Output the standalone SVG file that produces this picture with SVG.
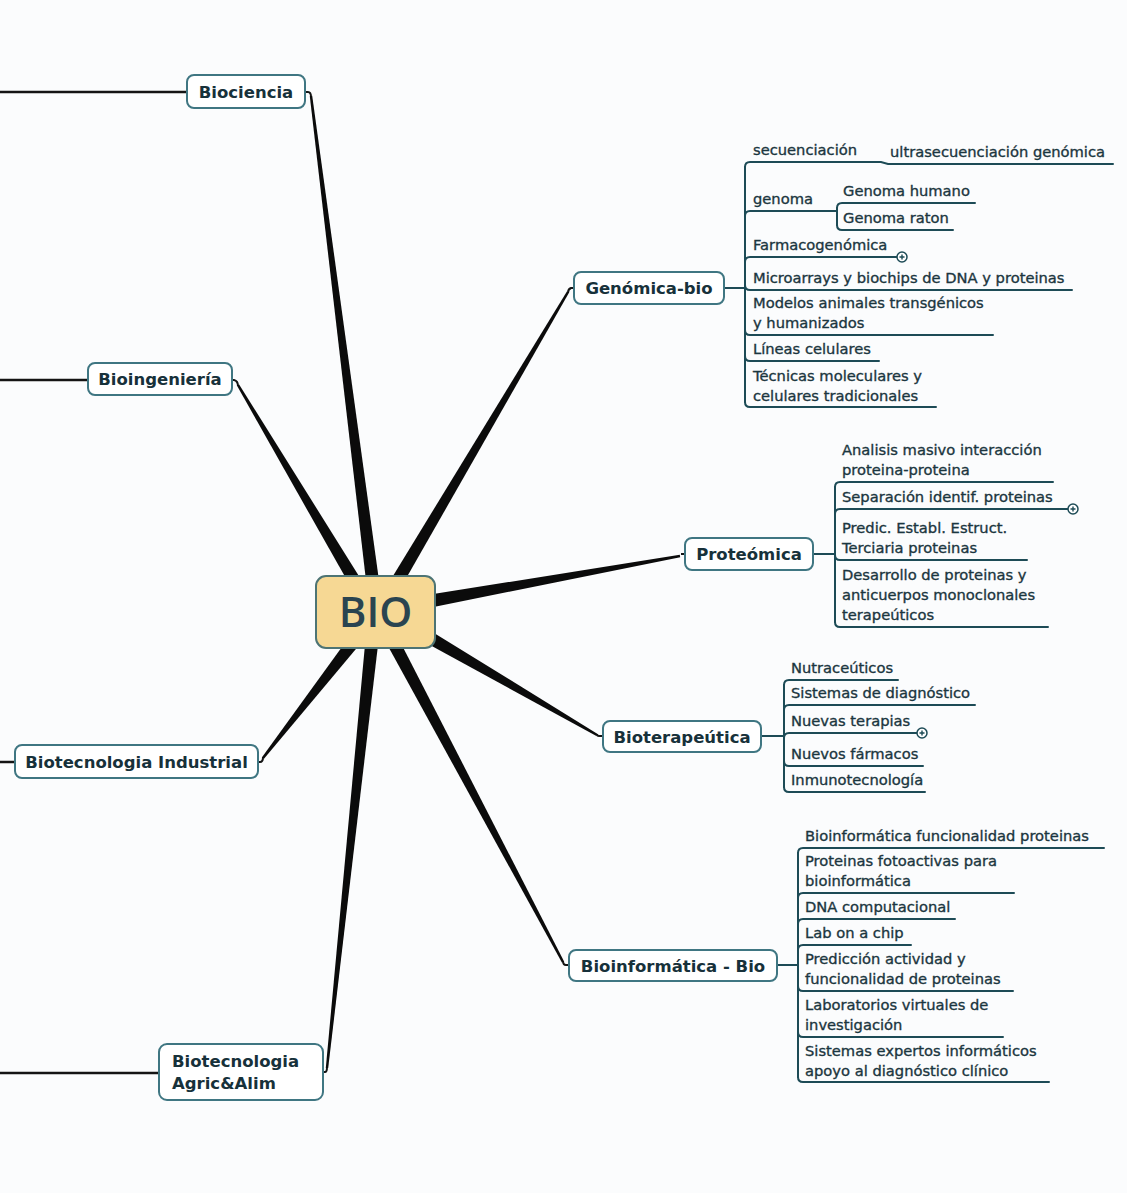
<svg xmlns="http://www.w3.org/2000/svg" width="1127" height="1193" viewBox="0 0 1127 1193">
  <style>
    .t { font-family: "DejaVu Sans", "Liberation Sans", sans-serif; font-size: 14.7px; fill: #1b3640; stroke: #1b3640; stroke-width: 0.35px; }
    .h { font-family: "DejaVu Sans", "Liberation Sans", sans-serif; font-size: 16.5px; font-weight: bold; fill: #17313a; }
    .root { font-family: "Open Sans", "DejaVu Sans", sans-serif; font-size: 42px; font-weight: 600; fill: #2a4450; }
    .ln { fill: none; stroke: #1d4b56; stroke-width: 2; stroke-linecap: round; }
    .box { fill: #ffffff; stroke: #3f7682; stroke-width: 2; }
    .spoke { fill: #0b0b0b; }
    .lead { fill: none; stroke: #141414; stroke-width: 2.5; }
    .hook { fill: none; stroke: #141414; stroke-width: 2; }
    .more circle { fill: #ffffff; stroke: #1d4b56; stroke-width: 1.5; }
    .more path { stroke: #1d4b56; stroke-width: 1.4; }
  </style>

  <rect width="1127" height="1193" fill="#fbfcfd"/>

  <g id="connectors">
    <!-- lines running off the left edge -->
    <path class="lead" d="M0,92 H187"/>
    <path class="lead" d="M0,380 H88"/>
    <path class="lead" d="M0,762 H15"/>
    <path class="lead" d="M0,1073 H159"/>

    <!-- short hooks from the topic boxes to the spokes -->
    <path class="hook" d="M305,92 H308 Q311,92 311,97"/>
    <path class="hook" d="M232,380 H234 Q238,381 238,386"/>
    <path class="hook" d="M574,288 H571 Q568,289 568,293"/>
    <path class="hook" d="M685,554 H681"/>
    <path class="hook" d="M603,736 H599 Q597,736 597,734"/>
    <path class="hook" d="M569,965 H566 Q563,965 563,961"/>
    <path class="hook" d="M323,1072 H325 Q327,1072 327,1067"/>
    <path class="hook" d="M258,762 H260 Q263,762 263,757"/>

    <!-- tapered spokes from the central node -->
    <polygon class="spoke" points="309.8,96.2 312.2,95.8 379.5,584.2 366.6,585.8"/>
    <polygon class="spoke" points="236.9,385.6 239.1,384.4 365.6,586.7 354.4,593.3"/>
    <polygon class="spoke" points="566.9,291.4 569.1,292.6 397.6,593.3 386.4,586.7"/>
    <polygon class="spoke" points="679.8,554.8 680.2,557.2 426.2,608.4 423.9,595.6"/>
    <polygon class="spoke" points="597.6,733.9 596.4,736.1 421.7,640.6 428.3,629.4"/>
    <polygon class="spoke" points="564.1,961.4 561.9,962.6 386.3,643.1 397.7,637.0"/>
    <polygon class="spoke" points="328.2,1068.1 325.8,1067.9 365.5,639.3 378.5,640.7"/>
    <polygon class="spoke" points="264.0,758.8 262.0,757.2 349.9,636.0 360.1,644.0"/>

    <!-- Genómica-bio branches -->
    <path class="ln" d="M724,288 H745"/>
    <path class="ln" d="M745,167 V402"/>
    <path class="ln" d="M745,167 Q745,162 750,162 H881 L888,164 H1113"/>
    <path class="ln" d="M745,216 Q745,211 750,211 H837"/>
    <path class="ln" d="M837,208 V225"/>
    <path class="ln" d="M837,208 Q837,203 842,203 H975"/>
    <path class="ln" d="M837,225 Q837,230 842,230 H953"/>
    <path class="ln" d="M745,262 Q745,257 750,257 H897"/>
    <path class="ln" d="M745,285 Q745,290 750,290 H1072"/>
    <path class="ln" d="M745,330 Q745,335 750,335 H993"/>
    <path class="ln" d="M745,356 Q745,361 750,361 H879"/>
    <path class="ln" d="M745,402 Q745,407 750,407 H936"/>

    <!-- Proteómica branches -->
    <path class="ln" d="M813,554 H835"/>
    <path class="ln" d="M835,487 V622"/>
    <path class="ln" d="M835,487 Q835,482 840,482 H1053"/>
    <path class="ln" d="M835,514 Q835,509 840,509 H1068"/>
    <path class="ln" d="M835,555 Q835,560 840,560 H1027"/>
    <path class="ln" d="M835,622 Q835,627 840,627 H1048"/>

    <!-- Bioterapeútica branches -->
    <path class="ln" d="M761,736 H784"/>
    <path class="ln" d="M784,685 V787"/>
    <path class="ln" d="M784,685 Q784,680 789,680 H898"/>
    <path class="ln" d="M784,710 Q784,705 789,705 H975"/>
    <path class="ln" d="M784,738 Q784,733 789,733 H917"/>
    <path class="ln" d="M784,761 Q784,766 789,766 H923"/>
    <path class="ln" d="M784,787 Q784,792 789,792 H925"/>

    <!-- Bioinformática - Bio branches -->
    <path class="ln" d="M777,965 H798"/>
    <path class="ln" d="M798,853 V1077"/>
    <path class="ln" d="M798,853 Q798,848 803,848 H1104"/>
    <path class="ln" d="M798,898 Q798,893 803,893 H1014"/>
    <path class="ln" d="M798,924 Q798,919 803,919 H955"/>
    <path class="ln" d="M798,950 Q798,945 803,945 H911"/>
    <path class="ln" d="M798,986 Q798,991 803,991 H1013"/>
    <path class="ln" d="M798,1032 Q798,1037 803,1037 H1003"/>
    <path class="ln" d="M798,1077 Q798,1082 803,1082 H1049"/>
  </g>

  <!-- central node -->
  <g id="node-bio">
    <rect x="316" y="576" width="119" height="72" rx="10" fill="#f6d894" stroke="#4d7474" stroke-width="2"/>
    <text class="root" x="375.5" y="627" text-anchor="middle">BIO</text>
  </g>

  <!-- main topics -->
  <g id="node-biociencia">
    <rect class="box" x="187" y="75" width="118" height="33" rx="7"/>
    <text class="h" x="246" y="97.5" text-anchor="middle">Biociencia</text>
  </g>
  <g id="node-bioingenieria">
    <rect class="box" x="88" y="363" width="144" height="32" rx="7"/>
    <text class="h" x="160" y="385" text-anchor="middle">Bioingeniería</text>
  </g>
  <g id="node-biotec-industrial">
    <rect class="box" x="15" y="745" width="243" height="33" rx="7"/>
    <text class="h" x="136.5" y="767.5" text-anchor="middle">Biotecnologia Industrial</text>
  </g>
  <g id="node-biotec-agric">
    <rect class="box" x="159" y="1044" width="164" height="56" rx="8"/>
    <text class="h" x="172" y="1067">Biotecnologia</text>
    <text class="h" x="172" y="1089">Agric&amp;Alim</text>
  </g>

  <g id="node-genomica">
    <rect class="box" x="574" y="272" width="150" height="32" rx="7"/>
    <text class="h" x="649" y="294" text-anchor="middle">Genómica-bio</text>
    <text class="t" x="753" y="155">secuenciación</text>
    <text class="t" x="890" y="157">ultrasecuenciación genómica</text>
    <text class="t" x="753" y="204">genoma</text>
    <text class="t" x="843" y="196">Genoma humano</text>
    <text class="t" x="843" y="223">Genoma raton</text>
    <text class="t" x="753" y="250">Farmacogenómica</text>
    <g class="more">
      <circle cx="902" cy="257" r="5"/>
      <path d="M899.5,257 H904.5 M902,254.5 V259.5"/>
    </g>
    <text class="t" x="753" y="283">Microarrays y biochips de DNA y proteinas</text>
    <text class="t" x="753" y="308">Modelos animales transgénicos</text>
    <text class="t" x="753" y="328">y humanizados</text>
    <text class="t" x="753" y="354">Líneas celulares</text>
    <text class="t" x="753" y="381">Técnicas moleculares y</text>
    <text class="t" x="753" y="401">celulares tradicionales</text>
  </g>

  <g id="node-proteomica">
    <rect class="box" x="685" y="538" width="128" height="32" rx="7"/>
    <text class="h" x="749" y="560" text-anchor="middle">Proteómica</text>
    <text class="t" x="842" y="455">Analisis masivo interacción</text>
    <text class="t" x="842" y="475">proteina-proteina</text>
    <text class="t" x="842" y="502">Separación identif. proteinas</text>
    <g class="more">
      <circle cx="1073" cy="509" r="5"/>
      <path d="M1070.5,509 H1075.5 M1073,506.5 V511.5"/>
    </g>
    <text class="t" x="842" y="533">Predic. Establ. Estruct.</text>
    <text class="t" x="842" y="553">Terciaria proteinas</text>
    <text class="t" x="842" y="580">Desarrollo de proteinas y</text>
    <text class="t" x="842" y="600">anticuerpos monoclonales</text>
    <text class="t" x="842" y="620">terapeúticos</text>
  </g>

  <g id="node-bioterapeutica">
    <rect class="box" x="603" y="721" width="158" height="31" rx="7"/>
    <text class="h" x="682" y="742.5" text-anchor="middle">Bioterapeútica</text>
    <text class="t" x="791" y="673">Nutraceúticos</text>
    <text class="t" x="791" y="698">Sistemas de diagnóstico</text>
    <text class="t" x="791" y="726">Nuevas terapias</text>
    <g class="more">
      <circle cx="922" cy="733" r="5"/>
      <path d="M919.5,733 H924.5 M922,730.5 V735.5"/>
    </g>
    <text class="t" x="791" y="759">Nuevos fármacos</text>
    <text class="t" x="791" y="785">Inmunotecnología</text>
  </g>

  <g id="node-bioinformatica">
    <rect class="box" x="569" y="950" width="208" height="31" rx="7"/>
    <text class="h" x="673" y="971.5" text-anchor="middle">Bioinformática - Bio</text>
    <text class="t" x="805" y="841">Bioinformática funcionalidad proteinas</text>
    <text class="t" x="805" y="866">Proteinas fotoactivas para</text>
    <text class="t" x="805" y="886">bioinformática</text>
    <text class="t" x="805" y="912">DNA computacional</text>
    <text class="t" x="805" y="938">Lab on a chip</text>
    <text class="t" x="805" y="964">Predicción actividad y</text>
    <text class="t" x="805" y="984">funcionalidad de proteinas</text>
    <text class="t" x="805" y="1010">Laboratorios virtuales de</text>
    <text class="t" x="805" y="1030">investigación</text>
    <text class="t" x="805" y="1056">Sistemas expertos informáticos</text>
    <text class="t" x="805" y="1076">apoyo al diagnóstico clínico</text>
  </g>
</svg>
